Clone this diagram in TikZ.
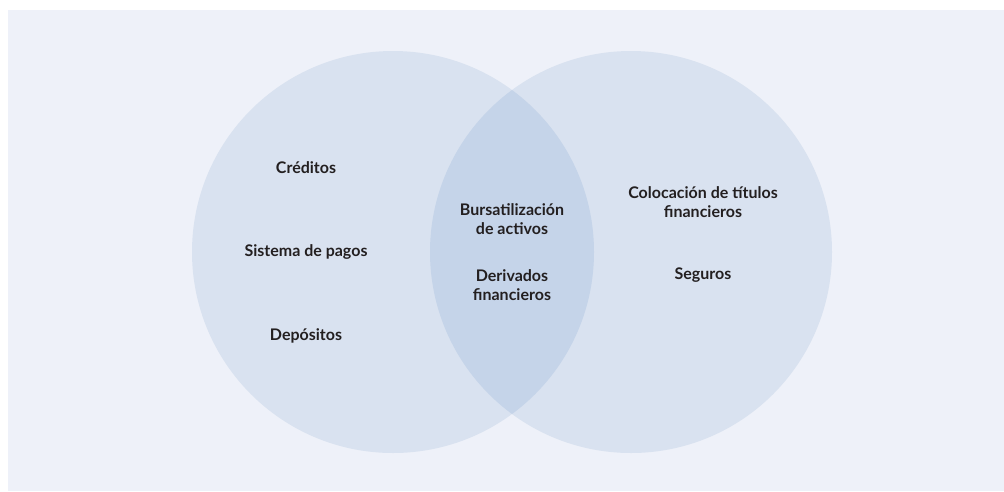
\documentclass[tikz,border=0pt]{standalone}
\usepackage{fontspec}
\setmainfont{Lato}
\usetikzlibrary{positioning}
\definecolor{bgpanel}{RGB}{238,241,249}
\definecolor{setfill}{RGB}{217,226,240}
\definecolor{overlapfill}{RGB}{197,212,233}
\definecolor{inkdark}{RGB}{35,31,32}

\begin{document}
\begin{tikzpicture}[x=1pt, y=-1pt,
    setcircle/.style={circle, fill=setfill, minimum size=402pt, inner sep=0pt},
    item/.style={font=\bfseries\fontsize{16}{19.5}\selectfont, text=inkdark, align=center}
]
\useasboundingbox (0,0) rectangle (1004,491);

% Background panel
\fill[bgpanel] (8,10) rectangle (1004,491);

% Sets
\node[setcircle] (banca) at (393,252) {};
\node[setcircle] (mercado) at (631,252) {};

% Overlap
\begin{scope}
    \clip (banca.center) circle[radius=201pt];
    \fill[overlapfill] (mercado.center) circle[radius=201pt];
\end{scope}

% Left set items
\node[item] (creditos) at (306,168) {Créditos};
\node[item] (pagos) at (306,252) {Sistema de pagos};
\node[item] (depositos) at (306,336) {Depósitos};

% Overlap items
\node[item] (bursa) at (512,219) {Bursatilización\\de activos};
\node[item] (derivados) at (512,285) {Derivados\\financieros};

% Right set items
\node[item] (colocacion) at (703,202) {Colocación de títulos\\financieros};
\node[item] (seguros) at (703,275) {Seguros};

\end{tikzpicture}
\end{document}
